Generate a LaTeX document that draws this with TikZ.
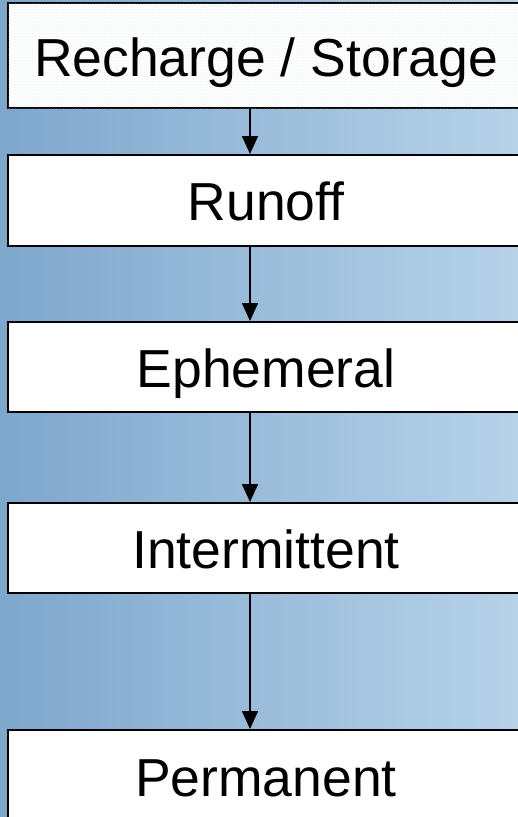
\documentclass[tikz,border=0pt]{standalone}
\usepackage{fontspec}
\setmainfont{Liberation Sans}
\usepackage{xcolor}
\usetikzlibrary{positioning,arrows.meta,patterns}
\definecolor{skyL}{HTML}{7EA7CC}
\definecolor{skyR}{HTML}{B6D2E9}
\definecolor{dotc}{HTML}{C9D8EA}

\begin{document}
\begin{tikzpicture}[x=1pt, y=-1pt]
\tikzstyle{box}=[draw, line width = 2pt, fill = white, minimum width = 516pt, minimum height = 90pt, inner sep = 0pt, text height = 40pt, text depth = 0pt, font = \fontsize{53.5}{60}\selectfont]
\tikzstyle{arr}=[line width = 1.6pt, -{Triangle[length = 18pt, width = 16pt]}]

\useasboundingbox (0,0) rectangle (518,817);
\fill[left color = skyL, right color = skyR] (0,0) rectangle (518,817);

\node[box, minimum height = 105pt, text height = 42pt, postaction = {pattern = dots, pattern color = dotc}] (rs) at (266,55.5) {Recharge / Storage};
\node[box, minimum height = 91pt, below = 45pt of rs] (ro) {Runoff};
\node[box, below = 74pt of ro] (ep) {Ephemeral};
\node[box, below = 89pt of ep] (im) {Intermittent};
\node[box, minimum height = 92pt, below = 135pt of im] (pm) {Permanent};

\coordinate (ax) at (250,0);
\draw[arr] (rs.south -| ax) -- (ro.north -| ax);
\draw[arr] (ro.south -| ax) -- (ep.north -| ax);
\draw[arr] (ep.south -| ax) -- (im.north -| ax);
\draw[arr] (im.south -| ax) -- (pm.north -| ax);
\end{tikzpicture}
\end{document}
